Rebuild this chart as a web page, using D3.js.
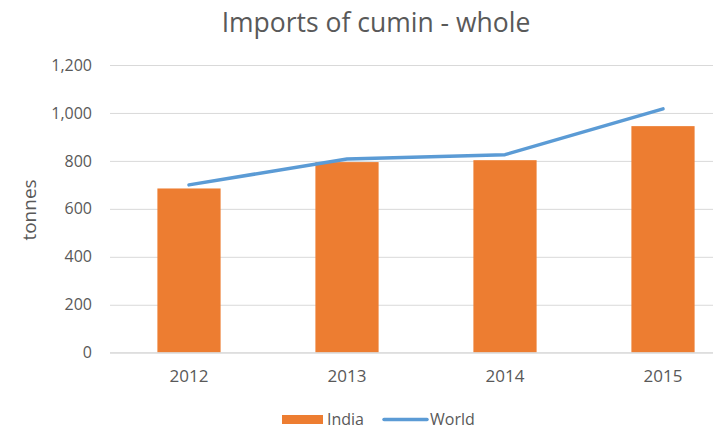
<!DOCTYPE html>
<html><head><meta charset="utf-8">
<script src="https://cdn.jsdelivr.net/npm/d3@7"></script>
<style>body{margin:0;background:#fff}svg{display:block}</style>
</head><body>
<svg id="c" width="713" height="429"></svg>
<script>
const years = ["2012","2013","2014","2015"];
const india = [685, 795, 803, 945];
const world = [700, 808, 826, 1017];
const yTicks = [0,200,400,600,800,1000,1200];

const svg = d3.select("#c");
const W = 713, H = 429;
const m = {left:110, right:742, top:65, bottom:352.7};
const font = "'Open Sans', 'Noto Sans', sans-serif";
const x = d3.scaleBand().domain(years).range([m.left, m.right]).paddingInner(0.6).paddingOuter(0.3);
const y = d3.scaleLinear().domain([0,1200]).range([m.bottom, m.top]);

svg.append("rect").attr("width",W).attr("height",H).attr("fill","#fff");

// grid
const grid = svg.append("g").attr("transform",`translate(${m.left},0)`)
  .call(d3.axisLeft(y).tickValues(yTicks).tickSize(-(W-m.left)).tickFormat(""));
grid.select(".domain").remove();
grid.selectAll("line").attr("stroke","#d9d9d9").attr("stroke-width",1);

// y labels
const ya = svg.append("g").attr("transform",`translate(${m.left},0)`)
  .call(d3.axisLeft(y).tickValues(yTicks).tickSize(0).tickPadding(18).tickFormat(d3.format(",")));
ya.select(".domain").remove();
ya.selectAll("text").attr("font-family",font).attr("font-size",16).attr("fill","#595959");

// bars
svg.append("g").selectAll("rect").data(years).join("rect")
  .attr("x",d=>x(d)).attr("width",x.bandwidth())
  .attr("y",(d,i)=>y(india[i])).attr("height",(d,i)=>y(0)-y(india[i]))
  .attr("fill","#ED7D31");

// x axis
const xa = svg.append("g").attr("transform",`translate(0,${m.bottom})`)
  .call(d3.axisBottom(x).tickSize(0).tickPadding(17));
xa.select(".domain").attr("stroke","#d9d9d9").attr("d",`M${m.left},0H${W}`);
xa.selectAll("text").attr("font-family",font).attr("font-size",17).attr("fill","#595959");

// line
const line = d3.line().x((d,i)=>x(years[i])+x.bandwidth()/2).y(d=>y(d));
svg.append("path").datum(world).attr("d",line).attr("fill","none")
  .attr("stroke","#5B9BD5").attr("stroke-width",3.5).attr("stroke-linecap","round").attr("stroke-linejoin","round");

// title
svg.append("text").attr("x",376).attr("y",32).attr("text-anchor","middle")
  .attr("font-family",font).attr("font-size",26.5).attr("fill","#595959").text("Imports of cumin - whole");

// y title
svg.append("text").attr("transform","translate(36,210) rotate(-90)").attr("text-anchor","middle")
  .attr("font-family",font).attr("font-size",19).attr("fill","#595959").text("tonnes");

// legend
const lg = svg.append("g");
lg.append("rect").attr("x",282).attr("y",415).attr("width",41).attr("height",9).attr("fill","#ED7D31");
lg.append("text").attr("x",327).attr("y",424.5).attr("font-family",font).attr("font-size",16).attr("fill","#595959").text("India");
lg.append("line").attr("x1",384).attr("x2",427).attr("y1",419.5).attr("y2",419.5).attr("stroke","#5B9BD5").attr("stroke-width",3.5).attr("stroke-linecap","round");
lg.append("text").attr("x",430).attr("y",424.5).attr("font-family",font).attr("font-size",16).attr("fill","#595959").text("World");
</script>
</body></html>
